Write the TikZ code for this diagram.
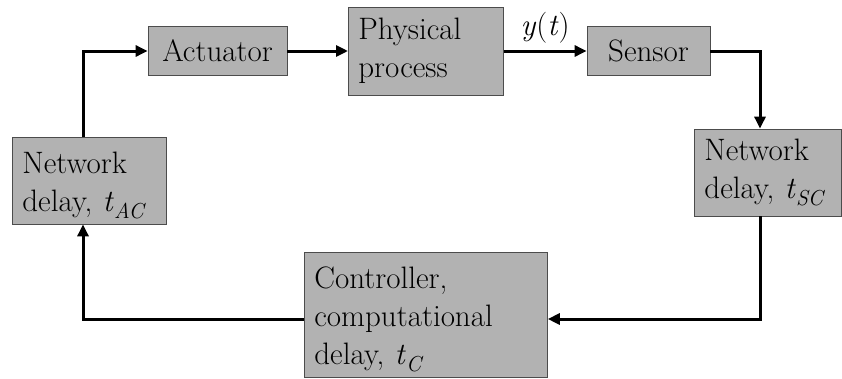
\documentclass[tikz,border=0pt]{standalone}
\usepackage{fontspec}
\usetikzlibrary{arrows.meta}
\newcommand{\sub}[1]{\textsubscript{\textit{#1}}}
\newcommand{\topgap}{\rule{0pt}{32pt}}
\begin{document}
\begin{tikzpicture}[x=1pt,y=-1pt,
  blk/.style={draw=black!70, line width=0.8pt, fill=black!30,
    inner ysep=0pt, inner xsep=10pt, align=left,
    font=\fontsize{31}{38}\selectfont},
  link/.style={line width=3pt, -{Triangle[length=12pt,width=11pt]}},
  lbl/.style={font=\fontsize{31}{38}\selectfont, inner sep=0pt}
]
\useasboundingbox (0,0) rectangle (842,378);

% blocks
\node[blk, minimum width=139, minimum height=49, inner xsep=0pt] (act) at (217.5,51) {Actuator};
\node[blk, minimum width=155, minimum height=88, text width=135, anchor=west] (phys) at (348,51) {Physical\\process};
\node[blk, minimum width=123, minimum height=49, inner xsep=0pt] (sens) at (648.5,51) {Sensor};
\node[blk, minimum width=147, minimum height=87, text width=127, anchor=west] (nsc) at (694,172.5) {Network\\delay, \textit{t}\sub{SC}};
\node[blk, minimum width=154, minimum height=87, text width=134, anchor=west] (nac) at (12,180.5) {\topgap Network\\delay, \textit{t}\sub{AC}};
\node[blk, minimum width=243, minimum height=125, text width=223, anchor=west] (ctl) at (304,314.5) {\topgap Controller,\\computational\\delay, \textit{t}\sub{C}};

% routing points
\coordinate (c1) at (83,51);
\coordinate (c2) at (760,51);
\coordinate (c3) at (760,319);
\coordinate (c4) at (83,319);

% loop connectors
\draw[link] (nac.north -| c1) -- (c1) -- (act.west);
\draw[link] (act.east) -- (phys.west);
\draw[link] (phys.east) -- node[lbl, above=6pt] {\textit{y}(\textit{t})} (sens.west);
\draw[link] (sens.east) -- (c2) -- (nsc.north -| c2);
\draw[link] (nsc.south -| c3) -- (c3) -- (ctl.east |- c3);
\draw[link] (ctl.west |- c4) -- (c4) -- (nac.south -| c4);
\end{tikzpicture}
\end{document}
